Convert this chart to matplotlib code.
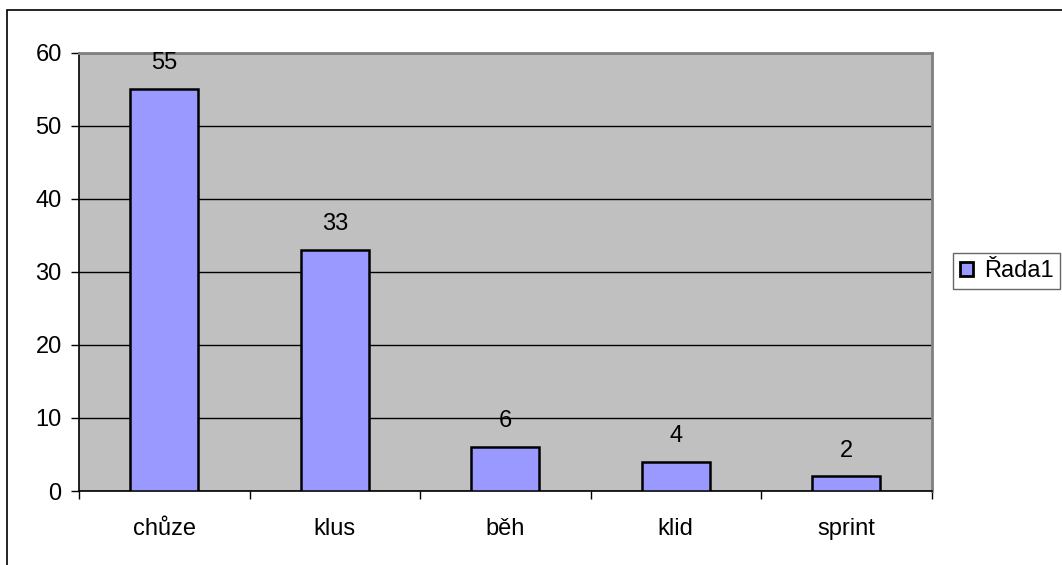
import numpy as np
import matplotlib.pyplot as plt
from matplotlib.patches import Rectangle

plt.rcParams['font.family'] = ['Liberation Sans', 'DejaVu Sans']

kategorie = ['chůze', 'klus', 'běh', 'klid', 'sprint']
hodnoty = [55, 33, 6, 4, 2]
serie = 'Řada1'

barva_sloupce = '#9999FF'
barva_plochy = '#C0C0C0'
W, H = 1062, 565
fs = 17

fig = plt.figure(figsize=(W / 100, H / 100), dpi=100)
ax = fig.add_axes([79 / W, 1 - 491 / H, (931.5 - 79) / W, (491 - 52.5) / H])
ax.set_facecolor(barva_plochy)

x = np.arange(len(kategorie))
sloupce = ax.bar(x, hodnoty, width=0.4, color=barva_sloupce, edgecolor='black',
                 linewidth=1.8, label=serie, zorder=3)
for xi, v in zip(x, hodnoty):
    ax.annotate(str(v), (xi, v), xytext=(0, 18.5), textcoords='offset points',
                ha='center', va='center', fontsize=fs)

ax.set_xlim(-0.5, len(kategorie) - 0.5)
ax.set_ylim(0, 60)
ax.set_yticks(np.arange(0, 61, 10))
ax.yaxis.grid(True, color='black', linewidth=1, zorder=1)
ax.tick_params(axis='y', direction='out', length=5.5, width=1, pad=7, labelsize=fs)

ax.set_xticks(x)
ax.set_xticklabels(kategorie)
ax.set_xticks(np.arange(-0.5, len(kategorie)), minor=True)
ax.tick_params(axis='x', which='major', length=0, pad=19.5, labelsize=fs)
ax.tick_params(axis='x', which='minor', direction='out', length=5.5, width=1)

for s in ['top', 'right']:
    ax.spines[s].set_color('#808080')
    ax.spines[s].set_linewidth(2)
for s in ['left', 'bottom']:
    ax.spines[s].set_color('black')
    ax.spines[s].set_linewidth(1.2)

leg = fig.legend(loc='center left', bbox_to_anchor=(953 / W, 1 - 271 / H),
                 fontsize=fs, frameon=True, fancybox=False, handlelength=0.55,
                 handleheight=0.55, handletextpad=0.45, borderpad=0.3,
                 borderaxespad=0)
leg.get_frame().set_edgecolor('#404040')
leg.get_frame().set_linewidth(1)
for h in leg.legend_handles:
    h.set_linewidth(2)

# vnější rámeček grafu
fig.patches.append(Rectangle((7 / W, -0.1), 1.2, 1 - 10 / H + 0.1, transform=fig.transFigure,
                             fill=False, edgecolor='black', linewidth=1.2))

fig.savefig('out.png', dpi=100)
